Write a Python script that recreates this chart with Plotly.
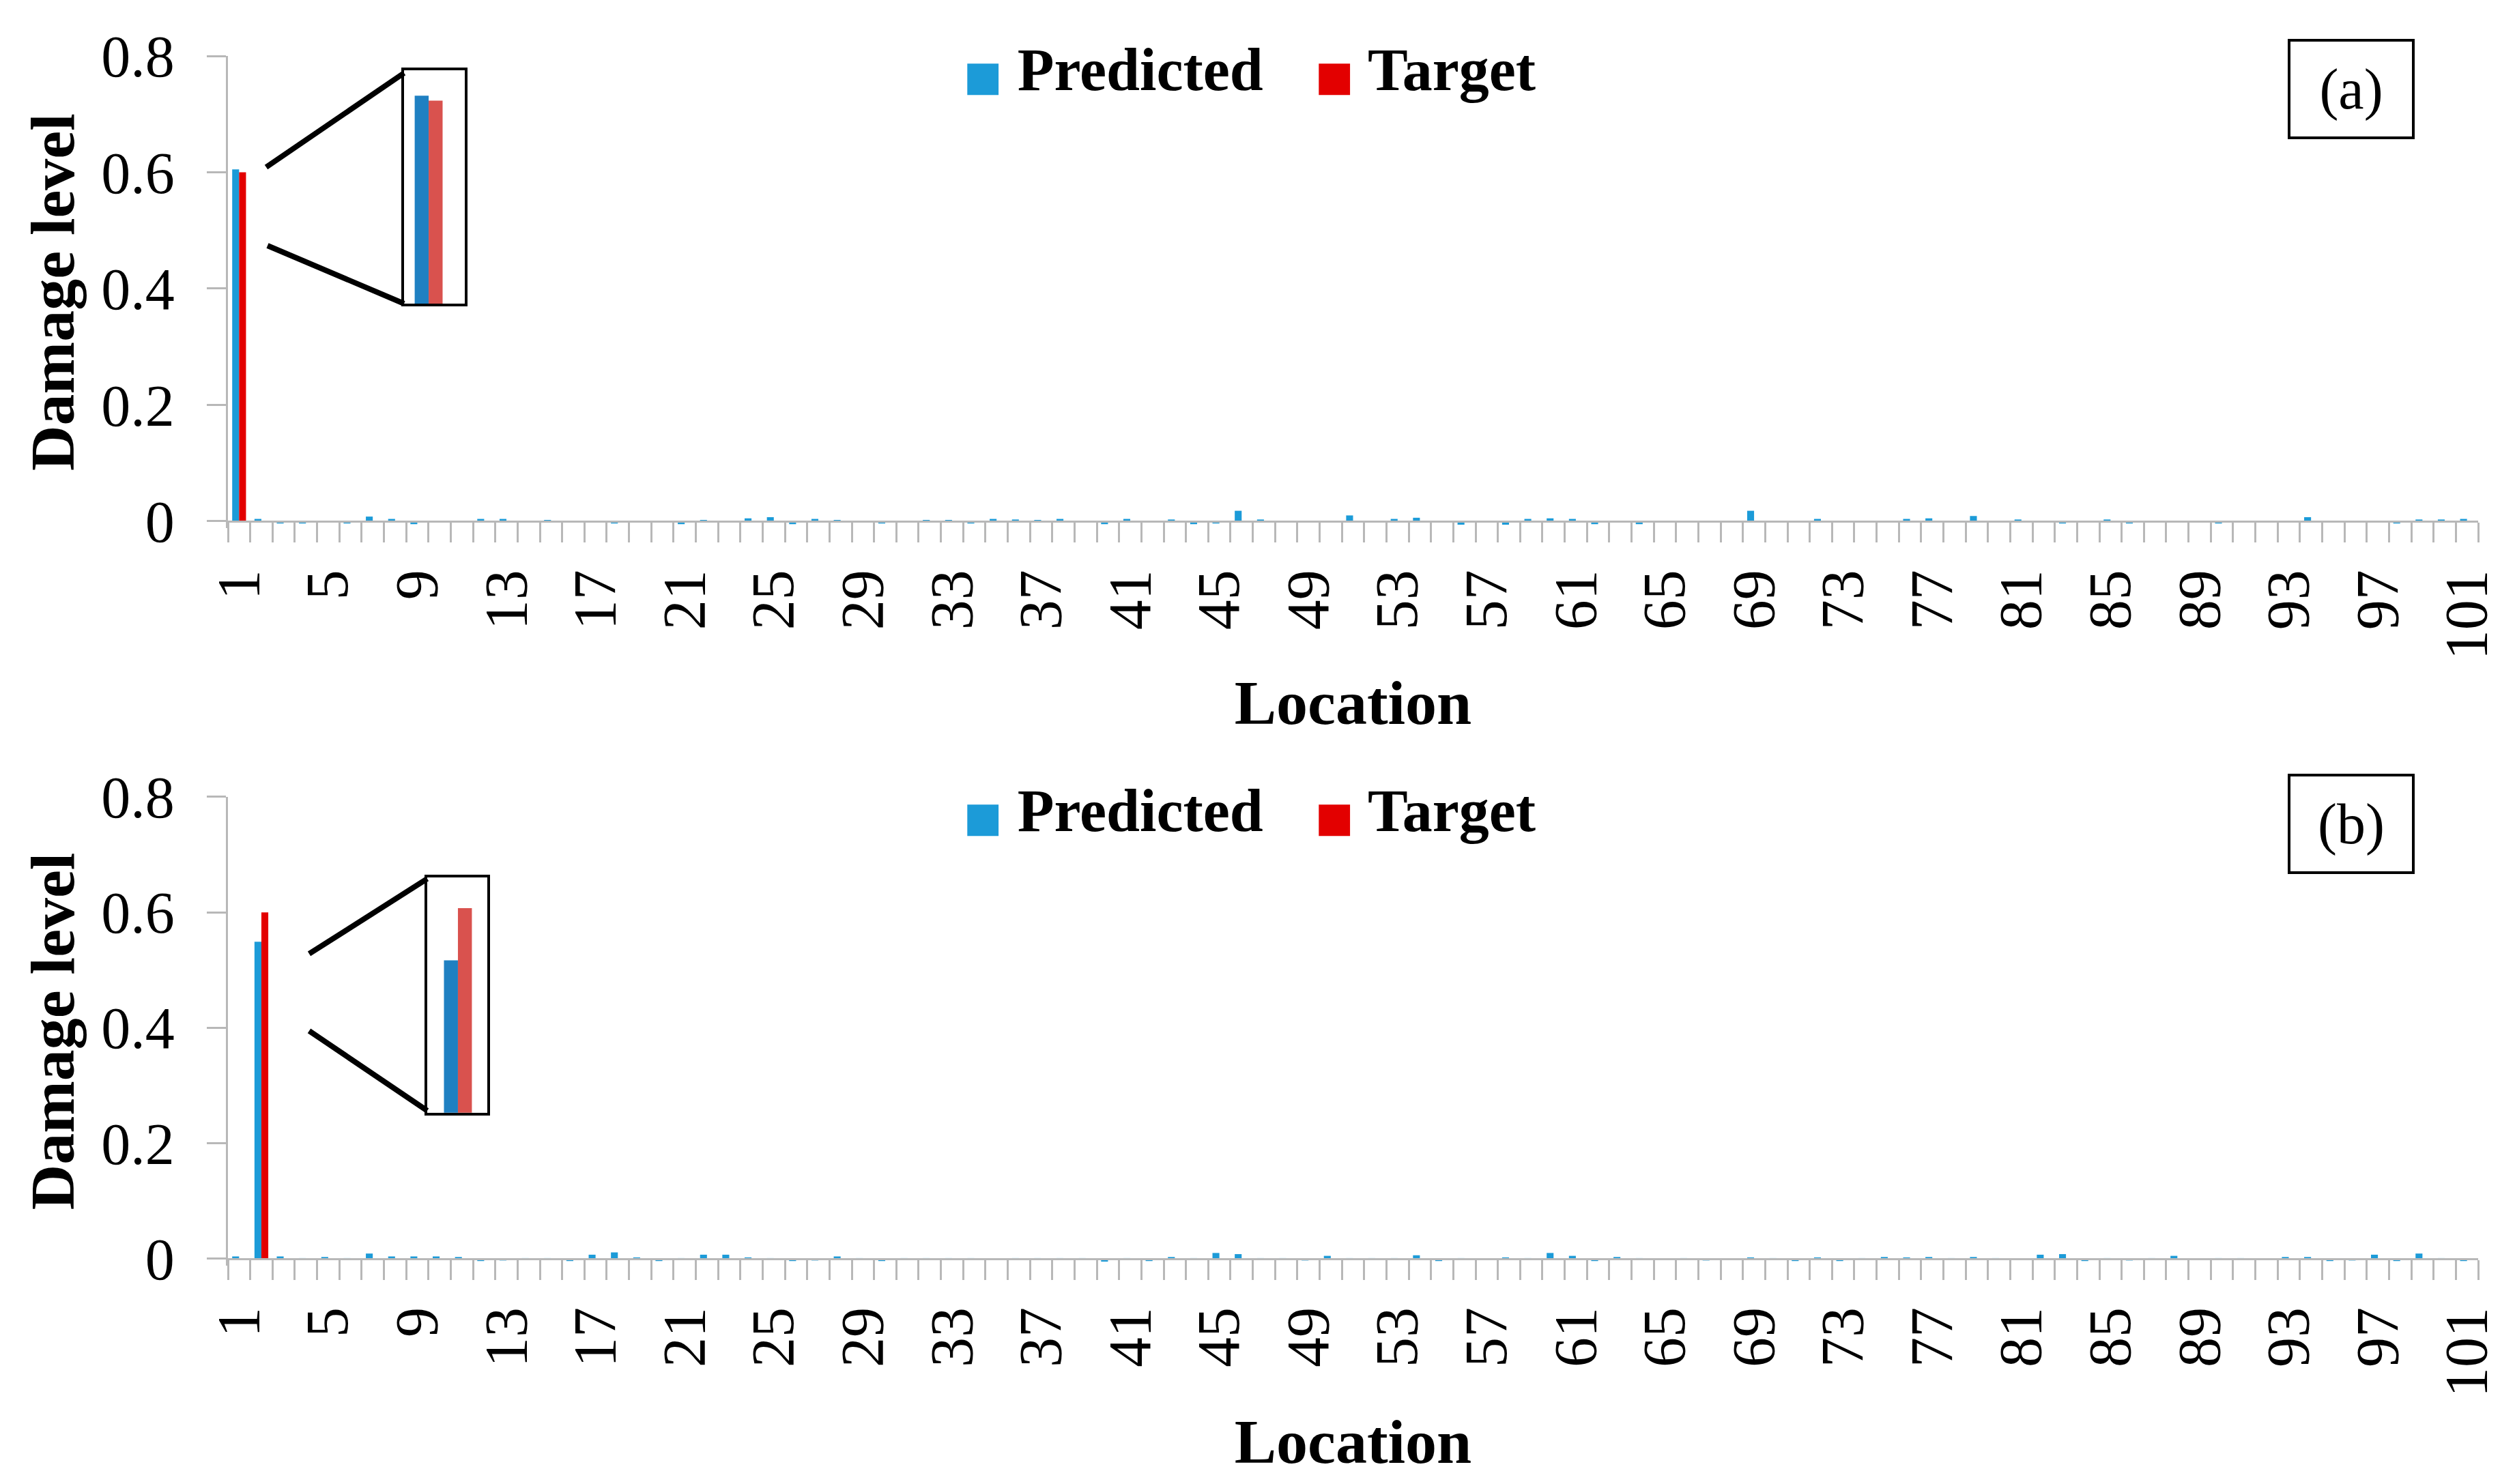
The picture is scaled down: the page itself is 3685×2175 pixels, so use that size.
import plotly.graph_objects as go

# ---------------- data ----------------
locations = list(range(1, 102))
tick_vals = [1, 5, 9, 13, 17, 21, 25, 29, 33, 37, 41, 45, 49, 53, 57, 61, 65, 69, 73, 77, 81, 85, 89, 93, 97, 101]
tick_text = ["1", "5", "9", "13", "17", "21", "25", "29", "33", "37", "41", "45", "49", "53", "57", "61",
             "65", "69", "73", "77", "81", "85", "89", "93", "97", "101"]
y_tick_vals = [0, 0.2, 0.4, 0.6, 0.8]
y_tick_text = ["0", "0.2", "0.4", "0.6", "0.8"]

predicted_a = [
    0.605, 0.004, -0.004, -0.004, -0.001, -0.004, 0.008, 0.004, -0.005, -0.001,
    0.000, 0.004, 0.004, -0.002, 0.002, -0.001, 0.001, -0.004, 0.001, 0.000,
    -0.005, 0.002, 0.001, 0.005, 0.007, -0.005, 0.004, 0.002, -0.002, -0.004,
    -0.002, 0.002, 0.002, -0.004, 0.004, 0.003, 0.002, 0.004, -0.002, -0.005,
    0.004, -0.002, 0.003, -0.005, -0.004, 0.018, 0.003, 0.001, 0.000, 0.000,
    0.010, 0.001, 0.004, 0.006, 0.000, -0.006, 0.000, -0.006, 0.004, 0.005,
    0.004, -0.005, 0.001, -0.005, -0.002, -0.002, 0.000, 0.000, 0.018, 0.000,
    -0.002, 0.004, -0.002, 0.001, 0.000, 0.004, 0.005, 0.000, 0.009, 0.001,
    0.003, 0.001, -0.004, 0.000, 0.003, -0.004, 0.001, 0.000, 0.001, -0.004,
    0.001, 0.001, -0.001, 0.007, 0.000, 0.001, 0.001, -0.004, 0.003, 0.003,
    0.004,
]
target_a = [
    0.6, 0, 0, 0, 0, 0, 0, 0, 0, 0,
    0, 0, 0, 0, 0, 0, 0, 0, 0, 0,
    0, 0, 0, 0, 0, 0, 0, 0, 0, 0,
    0, 0, 0, 0, 0, 0, 0, 0, 0, 0,
    0, 0, 0, 0, 0, 0, 0, 0, 0, 0,
    0, 0, 0, 0, 0, 0, 0, 0, 0, 0,
    0, 0, 0, 0, 0, 0, 0, 0, 0, 0,
    0, 0, 0, 0, 0, 0, 0, 0, 0, 0,
    0, 0, 0, 0, 0, 0, 0, 0, 0, 0,
    0, 0, 0, 0, 0, 0, 0, 0, 0, 0,
    0,
]
predicted_b = [
    0.004, 0.549, 0.004, 0.001, 0.003, 0.001, 0.009, 0.004, 0.004, 0.004,
    0.003, -0.004, -0.003, 0.001, 0.001, -0.004, 0.007, 0.011, 0.002, -0.004,
    -0.002, 0.007, 0.007, 0.002, 0.001, -0.004, -0.003, 0.004, 0.001, -0.004,
    0.001, 0.001, 0.001, 0.001, 0.000, 0.001, 0.001, 0.001, 0.001, -0.005,
    0.001, -0.004, 0.003, 0.001, 0.010, 0.008, -0.001, 0.001, -0.003, 0.005,
    0.001, 0.001, 0.001, 0.006, -0.004, 0.001, 0.000, 0.002, 0.001, 0.010,
    0.005, -0.004, 0.003, 0.001, 0.000, 0.001, -0.003, 0.000, 0.002, 0.001,
    -0.004, 0.002, -0.004, 0.001, 0.003, 0.002, 0.003, 0.001, 0.003, 0.001,
    0.000, 0.007, 0.008, -0.004, 0.001, -0.003, 0.001, 0.005, 0.000, 0.001,
    -0.002, 0.000, 0.003, 0.003, -0.004, -0.003, 0.007, -0.004, 0.009, 0.001,
    -0.004,
]
target_b = [
    0, 0.6, 0, 0, 0, 0, 0, 0, 0, 0,
    0, 0, 0, 0, 0, 0, 0, 0, 0, 0,
    0, 0, 0, 0, 0, 0, 0, 0, 0, 0,
    0, 0, 0, 0, 0, 0, 0, 0, 0, 0,
    0, 0, 0, 0, 0, 0, 0, 0, 0, 0,
    0, 0, 0, 0, 0, 0, 0, 0, 0, 0,
    0, 0, 0, 0, 0, 0, 0, 0, 0, 0,
    0, 0, 0, 0, 0, 0, 0, 0, 0, 0,
    0, 0, 0, 0, 0, 0, 0, 0, 0, 0,
    0, 0, 0, 0, 0, 0, 0, 0, 0, 0,
    0,
]
panel_labels = ["(a)", "(b)"]
series_names = ["Predicted", "Target"]

# ---------------- style / layout helpers ----------------
PAGE_W, PAGE_H = 3685, 2175
OFF = 8                      # default body margin of the html page
W, H = PAGE_W - 2 * OFF, PAGE_H - 2 * OFF
SERIF = "Liberation Serif, Times New Roman, serif"
BLUE = "#1c9bd8"
RED = "#e30000"
BLUE_IN = "#1f80c2"
RED_IN = "#d9524e"
GRAY = "#b8b8b8"

# targets in page pixels
L_PX, R_PX, T_PX = 334, 3631, 82
Y_MIN, Y_MAX = -0.012, 0.8
panels_px = [(82, 764), (1168, 1845)]  # pixel rows of y=0.8 and y=0


def bottom_px(top, zero):
    return zero + (zero - top) / Y_MAX * (-Y_MIN)


BOT_PX = bottom_px(*panels_px[1])
PLOT_H = BOT_PX - T_PX


def py(Y):
    return (BOT_PX - Y) / PLOT_H


def px(X):
    return (X - L_PX) / (R_PX - L_PX)


boundaries = [v - 0.5 for v in locations] + [locations[-1] + 0.5]

fig = go.Figure()

datasets = [(predicted_a, target_a), (predicted_b, target_b)]
for i, (pred, targ) in enumerate(datasets):
    xa = "x" if i == 0 else "x2"
    ya = "y" if i == 0 else "y2"
    fig.add_trace(go.Bar(x=locations, y=pred, name=series_names[0], marker=dict(color=BLUE, line=dict(width=0)),
                         xaxis=xa, yaxis=ya, showlegend=False))
    fig.add_trace(go.Bar(x=locations, y=targ, name=series_names[1], marker=dict(color=RED, line=dict(width=0)),
                         xaxis=xa, yaxis=ya, showlegend=False))
    # zoomed insets
    xi = "x3" if i == 0 else "x4"
    yi = "y3" if i == 0 else "y4"
    fig.add_trace(go.Bar(x=locations, y=pred, name=series_names[0], marker=dict(color=BLUE_IN, line=dict(width=0)),
                         xaxis=xi, yaxis=yi, showlegend=False, hoverinfo="skip"))
    fig.add_trace(go.Bar(x=locations, y=targ, name=series_names[1], marker=dict(color=RED_IN, line=dict(width=0)),
                         xaxis=xi, yaxis=yi, showlegend=False, hoverinfo="skip"))
    # legend entries
    leg = "legend" if i == 0 else "legend2"
    for name, col in zip(series_names, [BLUE, RED]):
        fig.add_trace(go.Scatter(
            x=[None], y=[None], mode="markers", xaxis=xa, yaxis=ya,
            marker=dict(color="rgba(0,0,0,0)", size=1),
            name=f"<span style='font-family:DejaVu Sans;font-size:60px;color:{col}'>\u25A0</span> {name}",
            legend=leg, showlegend=True, hoverinfo="skip"))


def x_axis(position, standoff):
    return dict(
        domain=[0, 1], position=position,
        range=[0.5, 101.5], tickmode="array", tickvals=tick_vals, ticktext=tick_text, tickangle=-90,
        ticks="outside", ticklen=29, tickcolor="rgba(0,0,0,0)", ticklabelstandoff=5,
        tickfont=dict(family=SERIF, size=88, color="black"),
        showline=True, linecolor=GRAY, linewidth=3, showgrid=False, zeroline=False,
        minor=dict(tickmode="array", tickvals=boundaries, ticks="outside", ticklen=29,
                   tickcolor=GRAY, tickwidth=2.5, showgrid=False),
        title=dict(text="Location", font=dict(family=SERIF, size=92, color="black", weight="bold"),
                   standoff=standoff),
        anchor="free", fixedrange=True,
    )


common_y = dict(
    range=[Y_MIN, Y_MAX], tickmode="array", tickvals=y_tick_vals, ticktext=y_tick_text,
    ticks="outside", ticklen=28, tickcolor=GRAY, tickwidth=2.5, ticklabelstandoff=30,
    tickfont=dict(family=SERIF, size=86, color="black"),
    showline=True, linecolor=GRAY, linewidth=3, showgrid=False, zeroline=False,
    title=dict(text="Damage level", font=dict(family=SERIF, size=92, color="black", weight="bold"), standoff=10),
    fixedrange=True,
)
inset_ax = dict(showline=True, mirror=True, linecolor="black", linewidth=4, showticklabels=False,
                ticks="", showgrid=False, zeroline=False, fixedrange=True)

top_a, zero_a = panels_px[0]
top_b, zero_b = panels_px[1]

legend_style = dict(xanchor="left", yanchor="middle", orientation="h",
                    font=dict(family=SERIF, size=88, color="black", weight="bold"),
                    bgcolor="rgba(0,0,0,0)", entrywidth=470, entrywidthmode="pixels", itemclick=False)

fig.update_layout(
    width=W, height=H,
    margin=dict(l=L_PX - OFF, r=(OFF + W) - R_PX, t=T_PX - OFF, b=(OFF + H) - BOT_PX, autoexpand=False),
    paper_bgcolor="white", plot_bgcolor="white",
    barmode="group", bargap=0.38, bargroupgap=0,
    font=dict(family=SERIF, color="black"),
    xaxis=x_axis(py(zero_a), 30),
    yaxis=dict(domain=[py(bottom_px(top_a, zero_a)), 1], anchor="x", **common_y),
    xaxis2=x_axis(py(zero_b), 32),
    yaxis2=dict(domain=[0, py(top_b)], anchor="x2", **common_y),
    xaxis3=dict(domain=[px(592), px(681)], anchor="y3", range=[0.453, 1.803], **inset_ax),
    yaxis3=dict(domain=[py(445), py(103)], anchor="x3", range=[0.40, 0.63], **inset_ax),
    xaxis4=dict(domain=[px(626), px(714)], anchor="y4", range=[1.319, 2.652], **inset_ax),
    yaxis4=dict(domain=[py(1631), py(1286)], anchor="x4", range=[0.40, 0.63], **inset_ax),
    legend=dict(x=px(1372), y=py(98), **legend_style),
    legend2=dict(x=px(1372), y=py(1184), **legend_style),
    showlegend=True,
)

# zoom guide lines
zoom_lines = [((390, 245), (592, 107)), ((392, 360), (592, 445)),
              ((453, 1398), (626, 1288)), ((453, 1511), (626, 1628))]
for (x0, y0), (x1, y1) in zoom_lines:
    fig.add_shape(type="line", xref="paper", yref="paper", x0=px(x0), y0=py(y0), x1=px(x1), y1=py(y1),
                  line=dict(color="black", width=8))

# panel labels
for lab, (cx, cy) in zip(panel_labels, [(3445, 131), (3445, 1208)]):
    fig.add_annotation(text=lab, xref="paper", yref="paper", x=px(cx), y=py(cy), xanchor="center",
                       yanchor="middle", showarrow=False, font=dict(family=SERIF, size=84, color="black"),
                       bordercolor="black", borderwidth=4, borderpad=0, width=178, height=139,
                       bgcolor="white")

fig.write_html("out.html")
